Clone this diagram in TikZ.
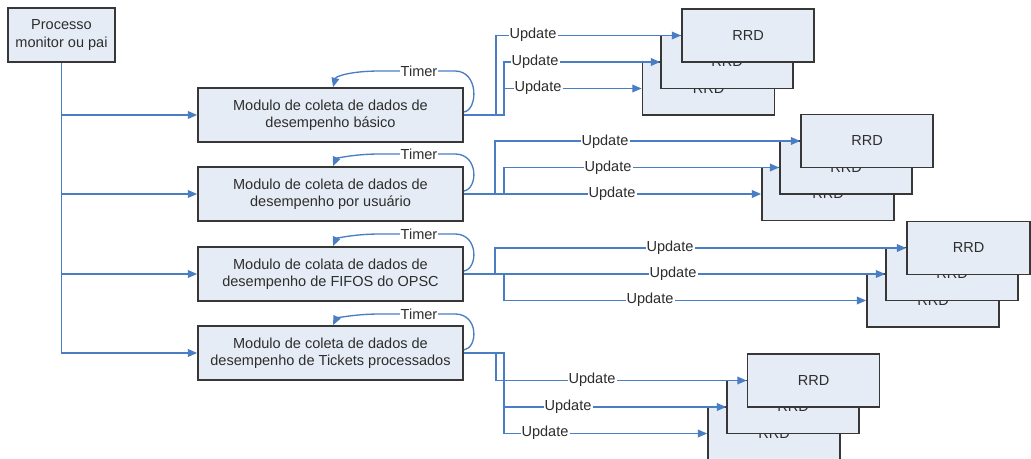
\documentclass[tikz,border=0pt]{standalone}
\usepackage{fontspec}
\setmainfont{Liberation Sans}
\usetikzlibrary{arrows.meta}
\definecolor{flowblue}{RGB}{74,126,196}
\definecolor{boxfill}{RGB}{230,236,246}
\definecolor{boxline}{RGB}{55,55,55}
\definecolor{txt}{RGB}{45,45,45}
\tikzset{
  box/.style={draw=boxline, fill=boxfill, line width=1.3pt, text=txt,
    font=\fontsize{10.9}{13}\selectfont, align=center, inner sep=0pt},
  procbox/.style={box, minimum width=80.25pt, minimum height=40.5pt},
  modbox/.style={box, minimum width=198.75pt, minimum height=40.5pt},
  rrdbox/.style={box, minimum width=99pt, minimum height=39.75pt},
  link/.style={draw=flowblue, line width=1pt},
  flow/.style={link, -{Triangle[length=7pt,width=5.8pt]}},
  lbl/.style={fill=white, text=txt, font=\fontsize{10.9}{13}\selectfont, inner sep=0.8pt},
}
\begin{document}
\begin{tikzpicture}[x=0.75pt,y=-0.75pt]
\useasboundingbox[fill=white] (0,0) rectangle (1031,459);

% parent process and the four collector modules
\node[procbox] (p) at (61.5,35) {Processo\\monitor ou pai};
\node[modbox] (b1) at (330.5,115) {Modulo de coleta de dados de\\desempenho básico};
\node[modbox] (b2) at (330.5,194) {Modulo de coleta de dados de\\desempenho por usuário};
\node[modbox] (b3) at (330.5,274) {Modulo de colata de dados de\\desempenho de FIFOS do OPSC};
\node[modbox] (b4) at (330.5,353) {Modulo de coleta de dados de\\desempenho de Tickets processados};

% parent starts each module
\foreach \i in {1,...,4}{
  \draw[flow] (p.south) |- (b\i.west);
}

% RRD stacks: back (k), middle (m), front (f)
\node[rrdbox] (k1) at (708.5,88.5) {RRD};
\node[rrdbox] (m1) at (727,62) {RRD};
\node[rrdbox] (f1) at (748,35.5) {RRD};

\node[rrdbox] (k2) at (828,194) {RRD};
\node[rrdbox] (m2) at (846,167.5) {RRD};
\node[rrdbox] (f2) at (867,141) {RRD};

\node[rrdbox] (k3) at (933,300.5) {RRD};
\node[rrdbox] (m3) at (952,274) {RRD};
\node[rrdbox, minimum width=92.25pt] (f3) at (968.5,248) {RRD};

\node[rrdbox] (k4) at (774,433.5) {RRD};
\node[rrdbox] (m4) at (793,407) {RRD};
\node[rrdbox] (f4) at (813.5,380.5) {RRD};

% update connectors
\draw[flow] (b1.east) -- ++(32,0) |- (f1.west);
\draw[flow] (b1.east) -- ++(40,0) |- (m1.west);
\draw[flow] (b1.east) -- ++(40,0) |- (k1.west);

\draw[flow] (b2.east) -- ++(31,0) |- (f2.west);
\draw[flow] (b2.east) -- ++(40,0) |- (m2.west);
\draw[flow] (b2.east) -- (k2.west);

\draw[flow] (b3.east) -- ++(31,0) |- (f3.west);
\draw[flow] (b3.east) -- (m3.west);
\draw[flow] (b3.east) -- ++(40,0) |- (k3.west);

\draw[flow] (b4.east) -- ++(32,0) |- (f4.west);
\draw[flow] (b4.east) -- ++(40,0) |- (m4.west);
\draw[flow] (b4.east) -- ++(40,0) |- (k4.west);

% update labels
\foreach \n/\x/\y in {u11/533/35, u12/535/62, u13/538/88,
                      u21/605/142, u22/608/168, u23/612/194,
                      u31/670/248, u32/673/274, u33/650/300,
                      u41/592/380, u42/568/407, u43/545/433}{
  \node[lbl] (\n) at (\x,\y) {Update};
}

% timer loops back onto each module
\foreach \i/\y/\t in {1/115/71, 2/194/154, 3/274/234, 4/353/314}{
  \draw[flow] ([yshift=2.25pt]b\i.east) .. controls (478,\y-5) and (479,\t) .. (455,\t)
    -- (380,\t) .. controls (352,\t) and (336,\t+5) .. ([xshift=1.9pt]b\i.north);
  \node[lbl] (t\i) at (419,\t) {Timer};
}
\end{tikzpicture}
\end{document}
